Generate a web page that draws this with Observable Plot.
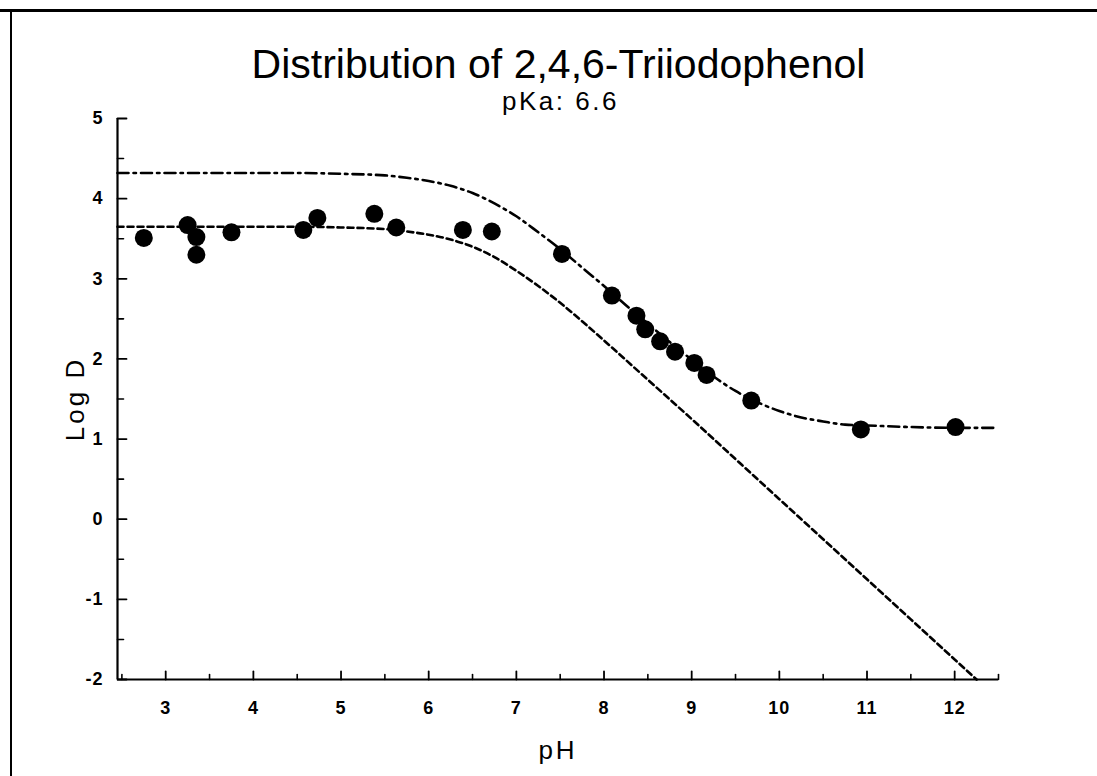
<!DOCTYPE html>
<html>
<head>
<meta charset="utf-8">
<script src="https://cdn.jsdelivr.net/npm/d3@7"></script>
<script src="https://cdn.jsdelivr.net/npm/@observablehq/plot@0.6"></script>
<style>
  html, body { margin: 0; padding: 0; background: #fff; }
  #wrap { position: relative; width: 1097px; height: 776px; overflow: hidden; font-family: "Liberation Sans", Arial, sans-serif; color: #000; }
  #borderTop { position: absolute; left: 0; top: 9px; width: 1097px; height: 3px; background: #000; }
  #borderLeft { position: absolute; left: 10px; top: 9px; width: 1.5px; height: 767px; background: #000; }
  #title { position: absolute; left: 10px; width: 1097px; top: 44px; text-align: center; font-size: 41px; line-height: 1; }
  #subtitle { position: absolute; left: 12px; width: 1097px; top: 88px; text-align: center; font-size: 26px; letter-spacing: 2.5px; line-height: 1; }
  #chart { position: absolute; left: 0; top: 0; }
  #chart svg { overflow: visible; }
</style>
</head>
<body>
<div id="wrap">
  <div id="chart"></div>
  <div id="borderTop"></div>
  <div id="borderLeft"></div>
  <div id="title">Distribution of 2,4,6-Triiodophenol</div>
  <div id="subtitle">pKa: 6.6</div>
</div>
<script>
// Measured points (pH, Log D)
const obsPH   = [2.75, 3.25, 3.35, 3.35, 3.75, 4.57, 4.73, 5.38, 5.63, 6.39, 6.72, 7.52, 8.09, 8.37, 8.47, 8.64, 8.81, 9.03, 9.17, 9.68, 10.93, 12.01];
const obsLogD = [3.51, 3.67, 3.52, 3.30, 3.58, 3.61, 3.76, 3.81, 3.64, 3.61, 3.59, 3.31, 2.79, 2.54, 2.37, 2.22, 2.09, 1.95, 1.80, 1.48, 1.12, 1.15];

// Dashed curve
const dashPH   = [2.45, 3.0, 4.0, 4.5, 5.0, 5.5, 5.75, 6.0, 6.25, 6.5, 6.75, 7.0, 7.25, 7.5, 7.75, 8.0, 8.5, 9.0, 9.5, 10.0, 10.5, 11.0, 11.5, 12.0, 12.25];
const dashLogD = [3.65, 3.65, 3.65, 3.65, 3.64, 3.62, 3.59, 3.55, 3.49, 3.40, 3.27, 3.10, 2.91, 2.70, 2.47, 2.23, 1.74, 1.25, 0.75, 0.25, -0.25, -0.75, -1.25, -1.75, -2.0];

// Dash-dot curve
const ddPH   = [2.45, 3.0, 4.0, 4.5, 5.0, 5.5, 5.75, 6.0, 6.25, 6.5, 6.75, 7.0, 7.25, 7.5, 7.75, 8.0, 8.25, 8.5, 8.75, 9.0, 9.25, 9.5, 9.75, 10.0, 10.25, 10.5, 10.75, 11.0, 11.5, 12.0, 12.45];
const ddLogD = [4.32, 4.32, 4.32, 4.32, 4.31, 4.29, 4.26, 4.22, 4.16, 4.07, 3.94, 3.78, 3.58, 3.37, 3.14, 2.91, 2.67, 2.44, 2.21, 1.99, 1.78, 1.60, 1.46, 1.35, 1.27, 1.22, 1.18, 1.17, 1.15, 1.14, 1.14];

// Axes
const xRange = [2.45, 12.5];
const yRange = [-2, 5];
const xMajor = [3, 4, 5, 6, 7, 8, 9, 10, 11, 12];
const xMinor = [2.5, 3.5, 4.5, 5.5, 6.5, 7.5, 8.5, 9.5, 10.5, 11.5, 12.5];
const yMajor = [-2, -1, 0, 1, 2, 3, 4, 5];
const yMinor = [-1.5, -0.5, 0.5, 1.5, 2.5, 3.5, 4.5];
const xTitle = "pH";
const yTitle = "Log D";

const points = obsPH.map((x, i) => ({pH: x, logD: obsLogD[i]}));
const dashed = dashPH.map((x, i) => ({pH: x, logD: dashLogD[i]}));
const dashDot = ddPH.map((x, i) => ({pH: x, logD: ddLogD[i]}));

const tickShape = { draw(ctx, l) { ctx.moveTo(0, 0); ctx.lineTo(0, -l); } };
const axisStroke = 2.2;

const chart = Plot.plot({
  width: 1097,
  height: 776,
  marginLeft: 117,
  marginRight: 99,
  marginTop: 118,
  marginBottom: 97,
  style: { fontFamily: "'Liberation Sans', Arial, sans-serif", fontSize: "15px", background: "transparent", color: "#000" },
  x: { domain: xRange, axis: null },
  y: { domain: yRange, axis: null },
  marks: [
    // tick labels
    Plot.text(xMajor, { x: d => d, y: () => yRange[0], dy: 29, text: d => String(d), fontSize: 18, fontWeight: "bold", lineAnchor: "middle" }),
    Plot.text(yMajor, { x: () => xRange[0], y: d => d, dx: -14, text: d => String(d), fontSize: 18, fontWeight: "bold", textAnchor: "end", lineAnchor: "middle" }),
    // axis lines
    Plot.ruleX([xRange[0]], { x: d => d, y1: yRange[0], y2: yRange[1], stroke: "#000", strokeWidth: axisStroke }),
    Plot.ruleY([yRange[0]], { y: d => d, x1: xRange[0], x2: xRange[1], stroke: "#000", strokeWidth: axisStroke }),
    // inward ticks
    Plot.vector(xMajor, { x: d => d, y: () => yRange[0], length: 8, rotate: 0, anchor: "start", shape: tickShape, stroke: "#000", strokeWidth: 1.8 }),
    Plot.vector(xMinor, { x: d => d, y: () => yRange[0], length: 5, rotate: 0, anchor: "start", shape: tickShape, stroke: "#000", strokeWidth: 1.6 }),
    Plot.vector(yMajor, { x: () => xRange[0], y: d => d, length: 9, rotate: 90, anchor: "start", shape: tickShape, stroke: "#000", strokeWidth: 1.8 }),
    Plot.vector(yMinor, { x: () => xRange[0], y: d => d, length: 6, rotate: 90, anchor: "start", shape: tickShape, stroke: "#000", strokeWidth: 1.6 }),
    // curves
    Plot.line(dashDot, { x: "pH", y: "logD", curve: "monotone-x", stroke: "#000", strokeWidth: 2.6, strokeDasharray: "11,5,2.5,5" }),
    Plot.line(dashed, { x: "pH", y: "logD", curve: "monotone-x", stroke: "#000", strokeWidth: 2.6, strokeDasharray: "6,4" }),
    // data points
    Plot.dot(points, { x: "pH", y: "logD", r: 9, fill: "#000", stroke: "none" }),
    // axis titles
    Plot.text([xTitle], { frameAnchor: "bottom", dy: 71, fontSize: 26, text: d => d, textAnchor: "middle", lineAnchor: "middle" }),
    Plot.text([yTitle], { frameAnchor: "left", dx: -42, rotate: -90, fontSize: 26, text: d => d, textAnchor: "middle", lineAnchor: "middle" })
  ]
});
// widen the lettering a little, as in the original typeface
const tickStrings = new Set([...xMajor, ...yMajor].map(String));
d3.select(chart).selectAll("text").each(function () {
  const t = this.textContent;
  if (t === xTitle || t === yTitle) this.setAttribute("letter-spacing", "3px");
  else if (tickStrings.has(t)) this.setAttribute("letter-spacing", "1px");
});
document.getElementById("chart").appendChild(chart);
</script>
</body>
</html>
